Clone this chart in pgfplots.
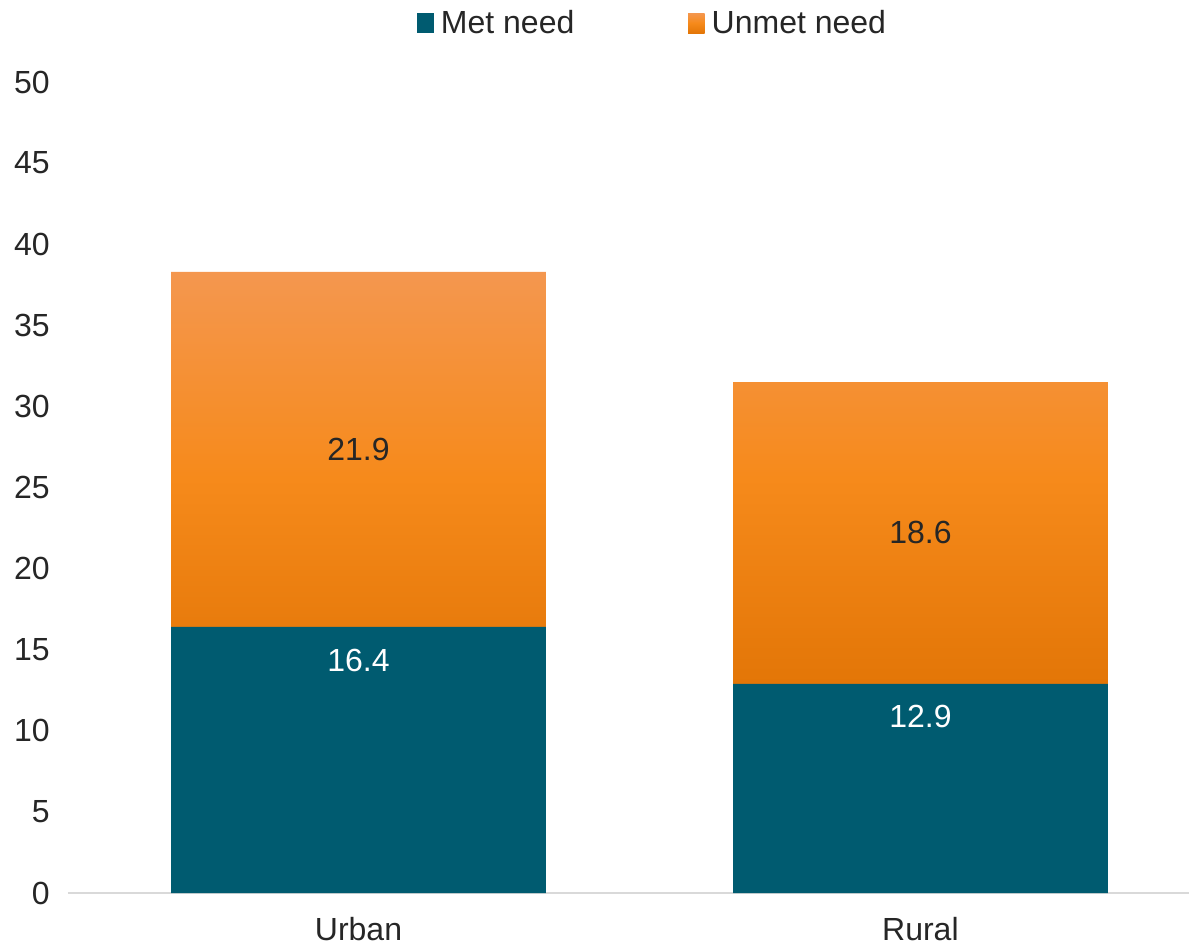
\documentclass[border=0pt]{standalone}
\usepackage{pgfplots}
\pgfplotsset{compat=1.18}
\usepackage{fontspec}
\setmainfont{Liberation Sans}
\definecolor{met}{HTML}{005B70}
\definecolor{untop}{HTML}{F4974F}
\definecolor{unmid}{HTML}{F68A1B}
\definecolor{unbot}{HTML}{E37607}
\definecolor{txt}{HTML}{262626}
\definecolor{axisgray}{HTML}{D9D9D9}
\begin{document}
\begin{tikzpicture}
\begin{axis}[
  at={(0pt,0pt)}, anchor=south west,
  scale only axis, width=840.75pt, height=608.25pt,
  ybar stacked, bar width=0.667,
  xmin=-0.517, xmax=1.478, ymin=0, ymax=50,
  xtick={0,1}, xticklabels={Urban,Rural},
  ytick={0,5,...,50},
  axis x line*=bottom, axis y line*=left,
  x axis line style={draw=axisgray, line width=1.5pt, -},
  y axis line style={draw=none},
  major tick length=0pt,
  font=\fontsize{24}{28}\selectfont,
  ticklabel style={font=\fontsize{24}{28}\selectfont, text=txt},
  /pgf/number format/assume math mode=true,
  /pgf/number format/.cd, fixed, precision=1, /pgfplots/.cd,
  yticklabel style={anchor=east, inner sep=0pt, xshift=-13.5pt},
  xticklabel style={anchor=north, inner sep=0pt, yshift=-18pt},
  legend style={at={(0.522,1.0727)}, anchor=center, draw=none, fill=none,
    font=\fontsize{24}{28}\selectfont, text=txt,
    nodes={inner sep=2.25pt},
    /tikz/every odd column/.append style={column sep=3pt},
    /tikz/every even column/.append style={column sep=83pt}},
  legend columns=2,
  legend image code/.code={\path[#1, draw=none] (0pt,-7.5pt) rectangle (12.5pt,7.5pt);},
]
\addplot[fill=met, draw=none, nodes near coords,
  point meta=rawy,
  visualization depends on=rawy \as \rawy,
  nodes near coords style={text=white, anchor=center, shift={(axis direction cs:0,\rawy/2)}, yshift=-24.75pt, font=\fontsize{24}{28}\selectfont}]
  coordinates {(0,16.4) (1,12.9)};
\addplot[draw=none, top color=untop, bottom color=unbot, middle color=unmid,
  nodes near coords, point meta=rawy,
  nodes near coords style={text=txt, anchor=center, font=\fontsize{24}{28}\selectfont}]
  coordinates {(0,21.9) (1,18.6)};
\legend{Met need, Unmet need}
\end{axis}
\pgfresetboundingbox
\path[use as bounding box] (-51pt,-40.5pt) rectangle (840.75pt,669.75pt);
\end{tikzpicture}
\end{document}
